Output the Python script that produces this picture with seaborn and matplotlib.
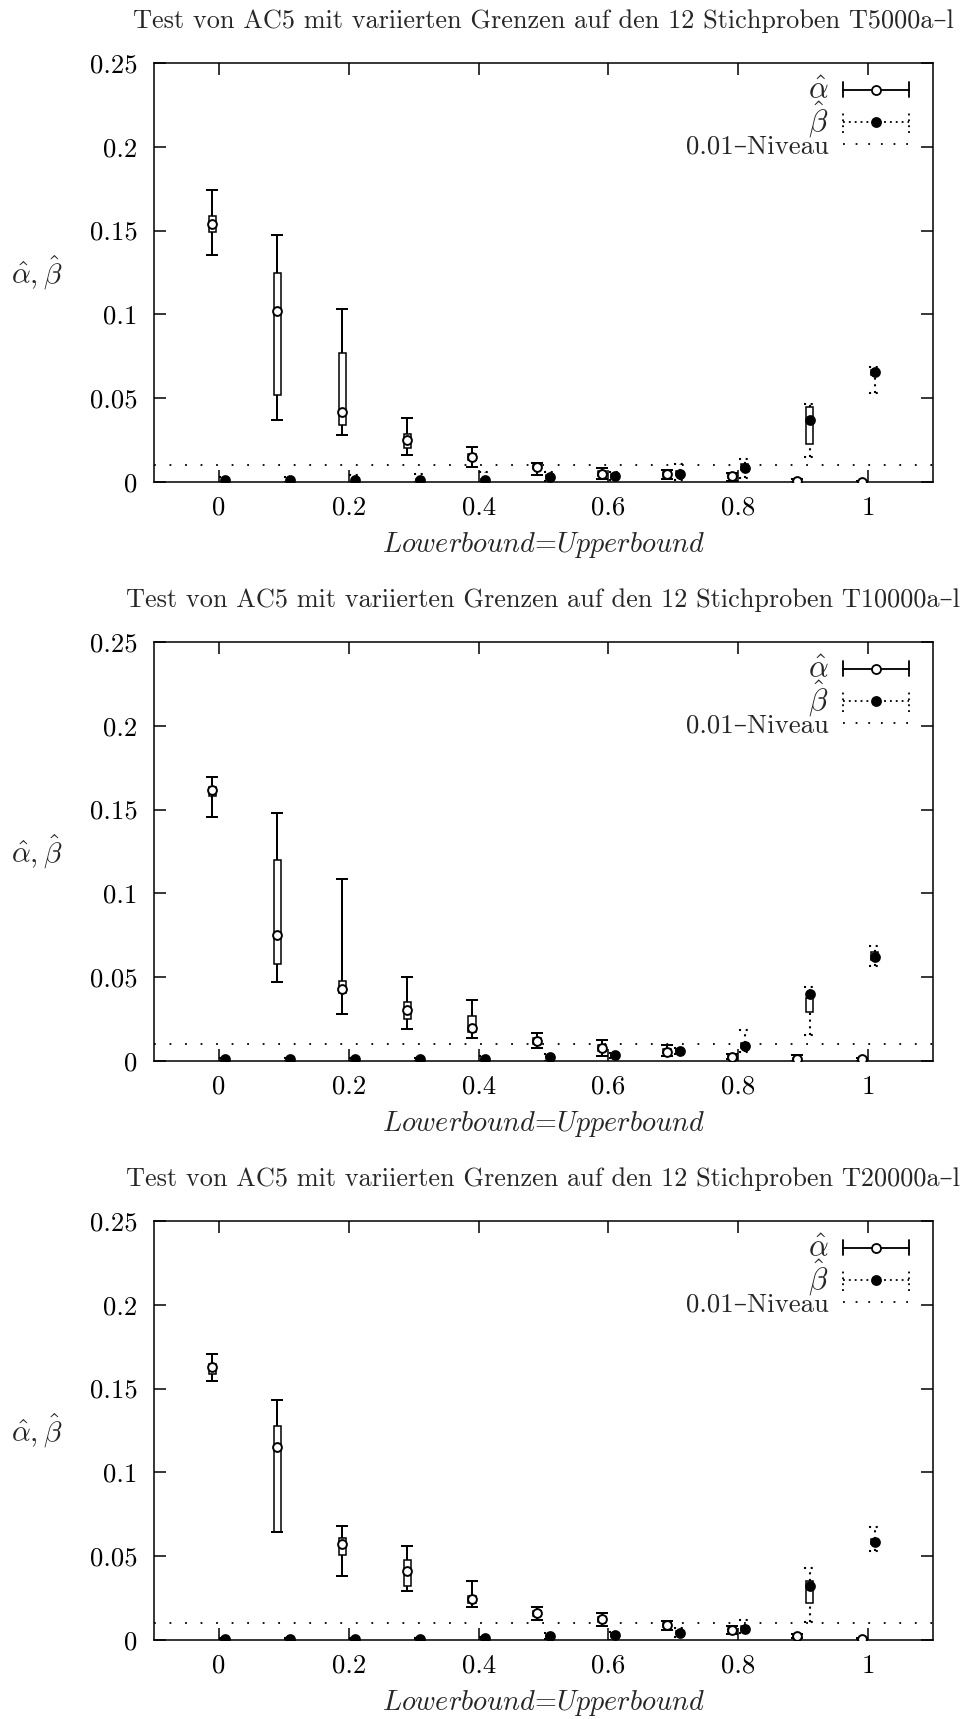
import numpy as np
import pandas as pd
import matplotlib
matplotlib.use("Agg")
import matplotlib.pyplot as plt
import seaborn as sns
from matplotlib.legend_handler import HandlerBase
from matplotlib.lines import Line2D

# ---------------------------------------------------------------- data
bounds = [0.0, 0.1, 0.2, 0.3, 0.4, 0.5, 0.6, 0.7, 0.8, 0.9, 1.0]
x_ticks = [0.0, 0.2, 0.4, 0.6, 0.8, 1.0]
x_tick_labels = ["0", "0.2", "0.4", "0.6", "0.8", "1"]
y_ticks = [0.0, 0.05, 0.10, 0.15, 0.20, 0.25]
y_tick_labels = ["0", "0.05", "0.1", "0.15", "0.2", "0.25"]
sample_sets = ["T5000a–l", "T10000a–l", "T20000a–l"]
niveau = 0.01

# T5000a-l : alpha-hat (min, lower box, mean, upper box, max)
alpha_5000_min = [0.1356, 0.0368, 0.0282, 0.0163, 0.0090, 0.0040, 0.0020, 0.0015, 0.0005, 0.0000, 0.0000]
alpha_5000_q1 = [0.1490, 0.0519, 0.0340, 0.0205, 0.0130, 0.0075, 0.0035, 0.0030, 0.0025, 0.0000, 0.0000]
alpha_5000_mean = [0.1540, 0.1020, 0.0420, 0.0250, 0.0150, 0.0090, 0.0050, 0.0046, 0.0036, 0.0003, 0.0002]
alpha_5000_q3 = [0.1590, 0.1245, 0.0768, 0.0284, 0.0165, 0.0100, 0.0065, 0.0058, 0.0045, 0.0008, 0.0004]
alpha_5000_max = [0.1740, 0.1476, 0.1034, 0.0382, 0.0207, 0.0116, 0.0085, 0.0070, 0.0054, 0.0015, 0.0005]
# T5000a-l : beta-hat
beta_5000_min = [0.0000, 0.0000, 0.0000, 0.0000, 0.0000, 0.0005, 0.0010, 0.0010, 0.0022, 0.0151, 0.0533]
beta_5000_q1 = [0.0008, 0.0008, 0.0008, 0.0008, 0.0008, 0.0020, 0.0025, 0.0040, 0.0070, 0.0225, 0.0640]
beta_5000_mean = [0.0014, 0.0012, 0.0012, 0.0012, 0.0014, 0.0030, 0.0036, 0.0050, 0.0085, 0.0370, 0.0658]
beta_5000_q3 = [0.0020, 0.0018, 0.0020, 0.0020, 0.0020, 0.0040, 0.0045, 0.0065, 0.0105, 0.0450, 0.0670]
beta_5000_max = [0.0030, 0.0030, 0.0040, 0.0050, 0.0060, 0.0060, 0.0060, 0.0110, 0.0135, 0.0465, 0.0688]

# T10000a-l : alpha-hat
alpha_10000_min = [0.1458, 0.0474, 0.0280, 0.0189, 0.0135, 0.0079, 0.0030, 0.0030, 0.0010, 0.0000, 0.0000]
alpha_10000_q1 = [0.1580, 0.0579, 0.0403, 0.0249, 0.0175, 0.0100, 0.0060, 0.0045, 0.0015, 0.0008, 0.0005]
alpha_10000_mean = [0.1617, 0.0752, 0.0428, 0.0304, 0.0195, 0.0121, 0.0076, 0.0055, 0.0024, 0.0014, 0.0010]
alpha_10000_q3 = [0.1637, 0.1200, 0.0479, 0.0352, 0.0268, 0.0140, 0.0095, 0.0070, 0.0035, 0.0020, 0.0015]
alpha_10000_max = [0.1693, 0.1480, 0.1084, 0.0503, 0.0366, 0.0165, 0.0124, 0.0094, 0.0040, 0.0035, 0.0015]
# T10000a-l : beta-hat
beta_10000_min = [0.0000, 0.0000, 0.0000, 0.0000, 0.0000, 0.0000, 0.0020, 0.0040, 0.0056, 0.0155, 0.0567]
beta_10000_q1 = [0.0005, 0.0005, 0.0005, 0.0005, 0.0007, 0.0018, 0.0030, 0.0050, 0.0075, 0.0294, 0.0600]
beta_10000_mean = [0.0010, 0.0010, 0.0010, 0.0010, 0.0012, 0.0026, 0.0036, 0.0060, 0.0089, 0.0400, 0.0622]
beta_10000_q3 = [0.0015, 0.0015, 0.0015, 0.0015, 0.0018, 0.0032, 0.0042, 0.0070, 0.0110, 0.0374, 0.0650]
beta_10000_max = [0.0020, 0.0020, 0.0020, 0.0020, 0.0030, 0.0040, 0.0050, 0.0080, 0.0185, 0.0440, 0.0686]

# T20000a-l : alpha-hat
alpha_20000_min = [0.1545, 0.0643, 0.0384, 0.0290, 0.0199, 0.0120, 0.0084, 0.0060, 0.0034, 0.0010, 0.0000]
alpha_20000_q1 = [0.1589, 0.0643, 0.0508, 0.0324, 0.0220, 0.0145, 0.0110, 0.0075, 0.0045, 0.0015, 0.0002]
alpha_20000_mean = [0.1629, 0.1150, 0.0573, 0.0410, 0.0243, 0.0161, 0.0124, 0.0088, 0.0058, 0.0024, 0.0004]
alpha_20000_q3 = [0.1645, 0.1274, 0.0609, 0.0478, 0.0260, 0.0175, 0.0140, 0.0102, 0.0072, 0.0030, 0.0008]
alpha_20000_max = [0.1704, 0.1430, 0.0679, 0.0563, 0.0350, 0.0195, 0.0159, 0.0113, 0.0084, 0.0035, 0.0010]
# T20000a-l : beta-hat
beta_20000_min = [0.0000, 0.0000, 0.0000, 0.0000, 0.0000, 0.0005, 0.0000, 0.0020, 0.0044, 0.0109, 0.0533]
beta_20000_q1 = [0.0003, 0.0003, 0.0003, 0.0003, 0.0005, 0.0018, 0.0020, 0.0035, 0.0055, 0.0222, 0.0570]
beta_20000_mean = [0.0006, 0.0005, 0.0006, 0.0007, 0.0010, 0.0025, 0.0030, 0.0044, 0.0067, 0.0322, 0.0583]
beta_20000_q3 = [0.0009, 0.0008, 0.0009, 0.0010, 0.0015, 0.0032, 0.0040, 0.0055, 0.0085, 0.0354, 0.0600]
beta_20000_max = [0.0012, 0.0010, 0.0012, 0.0012, 0.0020, 0.0040, 0.0050, 0.0070, 0.0118, 0.0430, 0.0673]

panels = [
    (sample_sets[0],
     (alpha_5000_min, alpha_5000_q1, alpha_5000_mean, alpha_5000_q3, alpha_5000_max),
     (beta_5000_min, beta_5000_q1, beta_5000_mean, beta_5000_q3, beta_5000_max)),
    (sample_sets[1],
     (alpha_10000_min, alpha_10000_q1, alpha_10000_mean, alpha_10000_q3, alpha_10000_max),
     (beta_10000_min, beta_10000_q1, beta_10000_mean, beta_10000_q3, beta_10000_max)),
    (sample_sets[2],
     (alpha_20000_min, alpha_20000_q1, alpha_20000_mean, alpha_20000_q3, alpha_20000_max),
     (beta_20000_min, beta_20000_q1, beta_20000_mean, beta_20000_q3, beta_20000_max)),
]

# ---------------------------------------------------------------- style
sns.set_theme(style="ticks")
plt.rcParams["font.family"] = ["cmr10", "DejaVu Serif"]
plt.rcParams["mathtext.fontset"] = "cm"
plt.rcParams["axes.formatter.use_mathtext"] = True
plt.rcParams["axes.unicode_minus"] = False

FS = 19.3
TITLE_FS = 18.9
INK = "black"
DOTTED = (0, (1.0, 2.2))
OFFSET = 0.01      # alpha drawn left of the bound, beta right of it
CAP = 0.0092       # half width of whisker caps (data units)
BOX_W = 0.0113     # candlestick width (data units)
LW = 1.1


class WhiskerKey:
    def __init__(self, linestyle, face):
        self.linestyle = linestyle
        self.face = face


class HandlerWhiskerKey(HandlerBase):
    def create_artists(self, legend, orig_handle, xdescent, ydescent,
                       width, height, fontsize, trans):
        y = height / 2.0 - ydescent
        x0, x1 = -xdescent, width - xdescent
        h = 0.28 * fontsize if orig_handle.linestyle == "-" else 0.38 * fontsize
        kw = dict(color=INK, lw=LW * 1.2, linestyle=orig_handle.linestyle, transform=trans)
        arts = [Line2D([x0, x1], [y, y], **kw),
                Line2D([x0, x0], [y - h, y + h], **kw),
                Line2D([x1, x1], [y - h, y + h], **kw),
                Line2D([(x0 + x1) / 2], [y], marker="o", ms=6.5,
                       mfc=orig_handle.face, mec=INK, mew=1.3,
                       linestyle="none", transform=trans)]
        return arts


def draw_candles(ax, xpos, stats, dotted, face):
    lo, q1, mean, q3, hi = (np.asarray(s) for s in stats)
    ls = DOTTED if dotted else "-"
    lw = 1.5 if dotted else LW * 1.3
    ax.vlines(xpos, lo, q1, colors=INK, linestyles=[ls], lw=lw, zorder=2)
    ax.vlines(xpos, q3, hi, colors=INK, linestyles=[ls], lw=lw, zorder=2)
    ax.hlines(lo, xpos - CAP, xpos + CAP, colors=INK, linestyles=[ls], lw=lw, zorder=2)
    ax.hlines(hi, xpos - CAP, xpos + CAP, colors=INK, linestyles=[ls], lw=lw, zorder=2)
    ax.bar(xpos, q3 - q1, bottom=q1, width=BOX_W, fill=False,
           edgecolor=INK, linewidth=LW, zorder=3)
    df = pd.DataFrame({"pos": xpos, "mean": mean})
    sns.scatterplot(data=df, x="pos", y="mean", ax=ax, marker="o", s=40,
                    color=face, edgecolor=INK, linewidth=1.4, zorder=4,
                    legend=False)


fig = plt.figure(figsize=(9.64, 17.19), dpi=100)
W, H = 964.0, 1719.0
ax_left, ax_right = 154, 933
ax_tops = [63, 642, 1221]
ax_h = 419

bounds_arr = np.asarray(bounds)
for (name, alpha_stats, beta_stats), top in zip(panels, ax_tops):
    ax = fig.add_axes([ax_left / W, (H - top - ax_h) / H,
                       (ax_right - ax_left) / W, ax_h / H])

    draw_candles(ax, bounds_arr - OFFSET, alpha_stats, dotted=False, face="white")
    draw_candles(ax, bounds_arr + OFFSET, beta_stats, dotted=True, face=INK)
    ax.axhline(niveau, color=INK, lw=1.3, linestyle=(0, (1.0, 7.6)), zorder=1)

    ax.set_xlim(-0.1, 1.1)
    ax.set_ylim(0, 0.25)
    ax.set_xticks(x_ticks)
    ax.set_xticklabels(x_tick_labels)
    ax.set_yticks(y_ticks)
    ax.set_yticklabels(y_tick_labels)
    ax.tick_params(direction="in", length=8.6, width=LW, top=True, right=True,
                   labelsize=FS, colors=INK)
    ax.tick_params(axis="x", pad=10)
    ax.tick_params(axis="y", pad=12)
    for sp in ax.spines.values():
        sp.set_linewidth(LW)
        sp.set_color(INK)
        sp.set_visible(True)

    ax.set_xlabel(r"$\mathit{Lowerbound}$=$\mathit{Upperbound}$", fontsize=FS + 1)
    ax.xaxis.set_label_coords(0.5, -63 / ax_h)
    ax.xaxis.label.set_va("center")
    ax.set_ylabel(r"$\hat{\alpha}, \hat{\beta}$", fontsize=FS + 2, rotation=0)
    ax.yaxis.set_label_coords((37 - ax_left) / (ax_right - ax_left), 0.5)
    ax.yaxis.label.set_va("center")
    ax.yaxis.label.set_ha("center")

    ax.set_title(f"Test von AC5 mit variierten Grenzen auf den 12 Stichproben {name}",
                 fontsize=TITLE_FS, y=1 + 42 / ax_h, pad=0, va="center")

    handles = [WhiskerKey("-", "white"), WhiskerKey(DOTTED, INK),
               Line2D([], [], color=INK, lw=1.3, linestyle=(0, (1.0, 6.0)))]
    labels = [r"$\hat{\alpha}$", r"$\hat{\beta}$", "0.01–Niveau"]
    leg = ax.legend(handles, labels, handler_map={WhiskerKey: HandlerWhiskerKey()},
                    loc="upper right", bbox_to_anchor=(1 - 24 / 779, 1 - 14 / ax_h),
                    frameon=False, markerfirst=False, fontsize=FS,
                    handlelength=2.45, handletextpad=0.55, labelspacing=-0.2,
                    borderpad=0, borderaxespad=0)
    for t in leg.get_texts()[:2]:
        t.set_fontsize(FS + 3)

fig.savefig("out.png", dpi=100)
